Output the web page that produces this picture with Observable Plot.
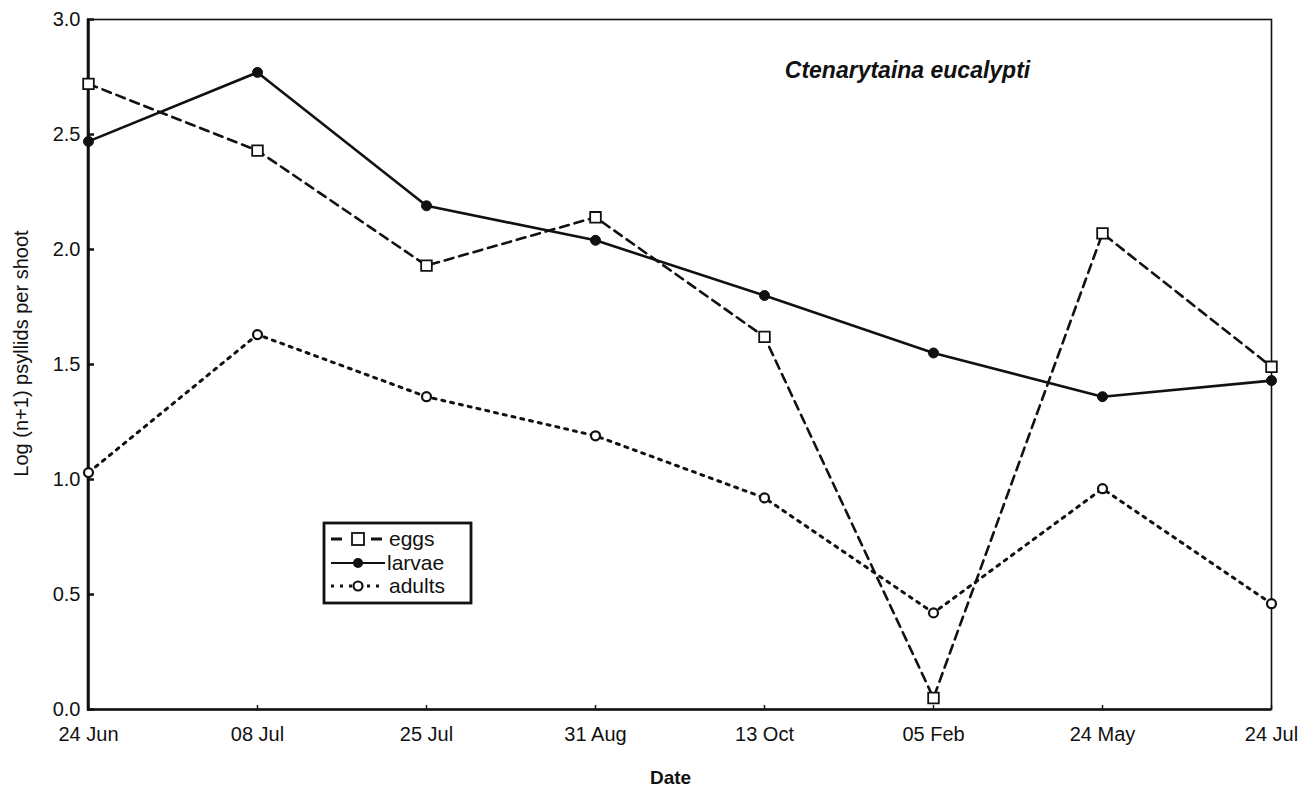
<!DOCTYPE html>
<html><head><meta charset="utf-8">
<script src="https://cdn.jsdelivr.net/npm/d3@7"></script>
<script src="https://cdn.jsdelivr.net/npm/@observablehq/plot@0.6"></script>
<style>
body{margin:0;background:#fff;font-family:"Liberation Sans",Arial,sans-serif;}
#wrap{position:relative;width:1304px;height:792px;overflow:hidden;}
#legend{position:absolute;left:322px;top:521px;}
</style></head><body><div id="wrap"></div>
<script>
const dates = ["24 Jun","08 Jul","25 Jul","31 Aug","13 Oct","05 Feb","24 May","24 Jul"];
const eggs   = [2.72, 2.43, 1.93, 2.14, 1.62, 0.05, 2.07, 1.49];
const larvae = [2.47, 2.77, 2.19, 2.04, 1.80, 1.55, 1.36, 1.43];
const adults = [1.03, 1.63, 1.36, 1.19, 0.92, 0.42, 0.96, 0.46];
const yTicks = [0, 0.5, 1.0, 1.5, 2.0, 2.5, 3.0];
const seriesNames = ["eggs", "larvae", "adults"];
const title = "Ctenarytaina eucalypti";
const yLabel = "Log (n+1) psyllids per shoot";
const xLabel = "Date";

const toRows = (vals, name) => dates.map((d, i) => ({date: d, value: vals[i], series: name}));
const eggRows = toRows(eggs, "eggs");
const larvaRows = toRows(larvae, "larvae");
const adultRows = toRows(adults, "adults");

const ink = "#111";
const font = "'Liberation Sans', Arial, sans-serif";
const chart = Plot.plot({
  width: 1304, height: 792,
  marginLeft: 87, marginRight: 33, marginTop: 19, marginBottom: 83,
  style: {fontFamily: font, background: "#fff", color: ink},
  x: {type: "point", domain: dates, padding: 0},
  y: {domain: [0, 3]},
  marks: [
    Plot.frame({stroke: ink, strokeWidth: 1.6}),
    Plot.ruleX([dates[0]], {stroke: ink, strokeWidth: 2.6}),
    Plot.ruleY([0], {stroke: ink, strokeWidth: 2.6}),
    Plot.ruleX(dates, {insetTop: 686, stroke: ink, strokeWidth: 1.5}),
    Plot.ruleY(yTicks, {insetRight: 1177, stroke: ink, strokeWidth: 2.5}),
    Plot.axisY({ticks: yTicks, tickFormat: d => d.toFixed(1), tickSize: 0, tickPadding: 7, fontSize: 20, label: null}),
    Plot.axisX({tickSize: 0, tickPadding: 17, fontSize: 20, label: null}),
    Plot.line(eggRows, {x: "date", y: "value", stroke: ink, strokeWidth: 2.6, strokeDasharray: "9,6"}),
    Plot.line(larvaRows, {x: "date", y: "value", stroke: ink, strokeWidth: 2.6}),
    Plot.line(adultRows, {x: "date", y: "value", stroke: ink, strokeWidth: 3, strokeDasharray: "3,6"}),
    Plot.dot(eggRows, {x: "date", y: "value", symbol: "square", r: 6, fill: "#fff", stroke: ink, strokeWidth: 1.8}),
    Plot.dot(larvaRows, {x: "date", y: "value", r: 5, fill: ink, stroke: ink, strokeWidth: 1}),
    Plot.dot(adultRows, {x: "date", y: "value", r: 4.5, fill: "#fff", stroke: ink, strokeWidth: 2.2}),
    Plot.text([title], {frameAnchor: "top", dx: 228, dy: 42, fontSize: 23, fontWeight: "bold", fontStyle: "italic", fill: ink}),
    Plot.text([yLabel], {frameAnchor: "left", textAnchor: "middle", rotate: -90, dx: -66, dy: -11, fontSize: 20, fill: ink}),
    Plot.text([xLabel], {frameAnchor: "bottom", dx: -9, dy: 74, fontSize: 19, fontWeight: "bold", fill: ink})
  ]
});
const wrap = document.getElementById("wrap");
wrap.appendChild(chart);

// Legend
const lw = 152, lh = 86;
const leg = d3.select(wrap).append("svg").attr("id", "legend").attr("width", lw).attr("height", lh);
leg.append("rect").attr("x", 2).attr("y", 2).attr("width", 147).attr("height", 80)
  .attr("fill", "#fff").attr("stroke", ink).attr("stroke-width", 2.8);
const rowsY = [18, 42, 65];
const styles = [
  {dash: "11,29", w: 2.8},
  {dash: null, w: 2.2},
  {dash: "3,6", w: 3}
];
seriesNames.forEach((name, i) => {
  const y = rowsY[i];
  const ln = leg.append("line").attr("x1", 9).attr("x2", 63).attr("y1", y).attr("y2", y)
    .attr("stroke", ink).attr("stroke-width", styles[i].w);
  if (styles[i].dash) ln.attr("stroke-dasharray", styles[i].dash);
  if (i === 0) leg.append("rect").attr("x", 30).attr("y", y - 6).attr("width", 12).attr("height", 12)
      .attr("fill", "#fff").attr("stroke", ink).attr("stroke-width", 1.8);
  if (i === 1) leg.append("circle").attr("cx", 36).attr("cy", y).attr("r", 5).attr("fill", ink);
  if (i === 2) leg.append("circle").attr("cx", 36).attr("cy", y).attr("r", 4.5).attr("fill", "#fff")
      .attr("stroke", ink).attr("stroke-width", 2.2);
  leg.append("text").attr("x", i === 1 ? 65 : 67).attr("y", y).attr("dy", "0.35em")
    .attr("font-size", 21).attr("fill", ink)
    .attr("font-family", font).text(name);
});
</script></body></html>
